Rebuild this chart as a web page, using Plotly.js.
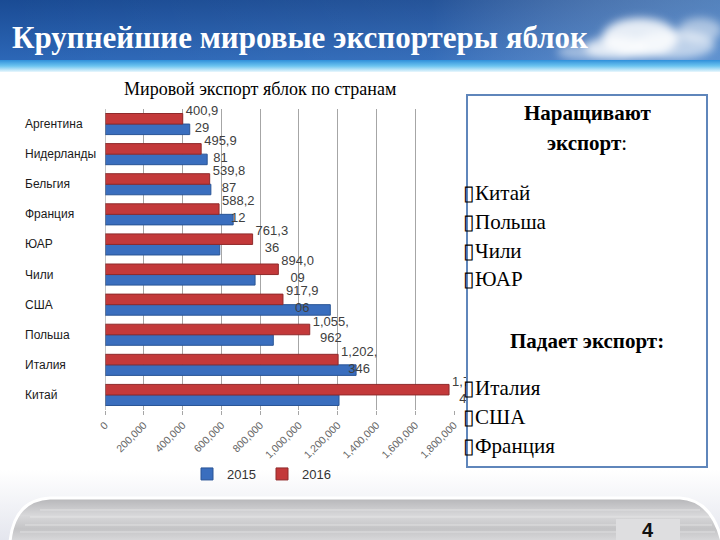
<!DOCTYPE html>
<html>
<head>
<meta charset="utf-8">
<script src="https://cdn.plot.ly/plotly-3.0.1.min.js"></script>
<style>html,body{margin:0;padding:0;background:#fff;}#chart{width:720px;height:540px;}</style>
</head>
<body>
<div id="chart"></div>
<script>
// ---- data (bottom to top on the chart) ----
const countries = ["Китай","Италия","Польша","США","Чили","ЮАР","Франция","Бельгия","Нидерланды","Аргентина"];
const exports2015 = [1207000,1295000,868000,1162000,774000,592000,661000,546000,527000,437000];
const exports2016 = [1774412,1202346,1055962,917906,894009,761336,588212,539887,495981,400929];
const seriesNames = ["2015","2016"];
const xTickVals = [0,200000,400000,600000,800000,1000000,1200000,1400000,1600000,1800000];
const slideTitle = "Крупнейшие мировые экспортеры яблок";
const chartTitle = "Мировой экспорт яблок по странам";
const growHeader = ["Наращивают","экспорт:"];
const growList = ["Китай","Польша","Чили","ЮАР"];
const fallHeader = "Падает экспорт:";
const fallList = ["Италия","США","Франция"];
const pageNumber = "4";

// wrapped data labels like in the source (e.g. "400,9" / "29")
function wrapLabel(v){
  const s = v.toLocaleString("en-US");
  const cut = s.length > 7 ? 6 : 5;
  return s.slice(0,cut) + "<br>" + s.slice(cut);
}
const labels2016 = exports2016.map(wrapLabel);

// ---- pixel -> paper helpers (plot area 105..454 x, 109..410 y) ----
const L=105, R=454, T=109, B=410;
const X = px => (px-L)/(R-L);
const Y = py => (B-py)/(B-T);

const headerSvg = `<svg xmlns='http://www.w3.org/2000/svg' width='720' height='72' viewBox='0 0 720 72'>
<defs>
<linearGradient id='g1' x1='0' y1='0' x2='0' y2='1'><stop offset='0' stop-color='#1a4b94'/><stop offset='1' stop-color='#2d68b8'/></linearGradient>
<linearGradient id='g2' x1='0' y1='0' x2='1' y2='0'><stop offset='0' stop-color='#ffffff' stop-opacity='0'/><stop offset='0.6' stop-color='#ffffff' stop-opacity='0.05'/><stop offset='1' stop-color='#9cc6ee' stop-opacity='0.45'/></linearGradient>
<linearGradient id='g3' x1='0' y1='0' x2='0' y2='1'><stop offset='0' stop-color='#2f8fda'/><stop offset='0.5' stop-color='#6cc4f0'/><stop offset='1' stop-color='#eaf7fd'/></linearGradient>
<filter id='b' x='-50%' y='-50%' width='200%' height='200%'><feGaussianBlur stdDeviation='4'/></filter>
</defs>
<rect width='720' height='62' fill='url(#g1)'/>
<rect width='720' height='62' fill='url(#g2)'/>
<g filter='url(#b)' fill='#ffffff'>
<ellipse cx='640' cy='38' rx='38' ry='20' opacity='0.85'/>
<ellipse cx='615' cy='48' rx='30' ry='12' opacity='0.7'/>
<ellipse cx='675' cy='45' rx='40' ry='14' opacity='0.6'/>
<ellipse cx='700' cy='30' rx='22' ry='12' opacity='0.5'/>
<ellipse cx='585' cy='52' rx='28' ry='8' opacity='0.45'/>
</g>
<rect y='60' width='720' height='12' fill='url(#g3)'/>
</svg>`;

const footerSvg = `<svg xmlns='http://www.w3.org/2000/svg' width='720' height='70' viewBox='0 0 720 70'>
<defs>
<linearGradient id='f0' x1='0' y1='0' x2='0' y2='1'><stop offset='0' stop-color='#ffffff'/><stop offset='1' stop-color='#e4e6ee'/></linearGradient>
<linearGradient id='f1' x1='0' y1='0' x2='0' y2='1'><stop offset='0' stop-color='#b5b5b8'/><stop offset='0.4' stop-color='#d8d8da'/><stop offset='0.7' stop-color='#c4c4c6'/><stop offset='1' stop-color='#dadadc'/></linearGradient>
</defs>
<rect width='720' height='70' fill='url(#f0)'/>
<path d='M10 72 Q14 30 50 28 L680 28 Q712 30 722 72 Z' fill='url(#f1)' stroke='#ffffff' stroke-width='3'/>
<g stroke='#eeeeee' stroke-width='1' opacity='0.6'>
<line x1='40' y1='40' x2='700' y2='40'/><line x1='30' y1='47' x2='710' y2='47'/><line x1='25' y1='55' x2='712' y2='55'/><line x1='20' y1='62' x2='715' y2='62'/>
</g>
<rect x='616' y='49' width='64' height='21' fill='#dedee0'/>
</svg>`;

const traces = [
  {type:"bar", orientation:"h", name:seriesNames[0], y:countries, x:exports2015,
   marker:{color:"#3a6ebe", line:{color:"#2a5596", width:1}}, hoverinfo:"x+y"},
  {type:"bar", orientation:"h", name:seriesNames[1], y:countries, x:exports2016,
   text:labels2016, textposition:"outside", cliponaxis:false, constraintext:"none",
   textfont:{family:"Liberation Sans, Arial, sans-serif", size:13, color:"#404040"},
   marker:{color:"#c3393a", line:{color:"#8f2a2b", width:1}}, hoverinfo:"x+y"}
];

const annotations = [];
// slide title
annotations.push({xref:"paper", yref:"paper", x:X(10), y:Y(37), xanchor:"left", yanchor:"middle",
  text:slideTitle, showarrow:false,
  font:{family:"Liberation Serif, Times New Roman, serif", size:31, color:"#ffffff", weight:"bold"}});
// chart title
annotations.push({xref:"paper", yref:"paper", x:X(260), y:Y(89), xanchor:"center", yanchor:"middle",
  text:chartTitle, showarrow:false,
  font:{family:"Liberation Serif, Times New Roman, serif", size:18, color:"#000000"}});
// category labels (left aligned as in the source)
countries.forEach((c,i)=>annotations.push({xref:"paper", yref:"y", x:X(23), y:i, xanchor:"left", yanchor:"middle",
  text:c, showarrow:false, font:{family:"Liberation Sans, Arial, sans-serif", size:12, color:"#1a1a1a"}}));
// text box contents
const serif = "Liberation Serif, Times New Roman, serif";
annotations.push({xref:"paper", yref:"paper", x:X(587), y:Y(113), xanchor:"center", yanchor:"middle",
  text:growHeader[0], showarrow:false, font:{family:serif, size:21, color:"#000", weight:"bold"}});
annotations.push({xref:"paper", yref:"paper", x:X(587), y:Y(143), xanchor:"center", yanchor:"middle",
  text:"<b>экспорт</b>:", showarrow:false, font:{family:serif, size:21, color:"#000"}});
const bulletRows = [193,222,251,279];
growList.forEach((t,i)=>annotations.push({xref:"paper", yref:"paper", x:X(461), y:Y(bulletRows[i]), xanchor:"left", yanchor:"middle",
  text:"▯"+t, showarrow:false, font:{family:serif, size:21, color:"#000"}}));
annotations.push({xref:"paper", yref:"paper", x:X(587), y:Y(341), xanchor:"center", yanchor:"middle",
  text:fallHeader, showarrow:false, font:{family:serif, size:21, color:"#000", weight:"bold"}});
const fallRows = [388,417,446];
fallList.forEach((t,i)=>annotations.push({xref:"paper", yref:"paper", x:X(461), y:Y(fallRows[i]), xanchor:"left", yanchor:"middle",
  text:"▯"+t, showarrow:false, font:{family:serif, size:21, color:"#000"}}));
// page number
annotations.push({xref:"paper", yref:"paper", x:X(648), y:Y(530), xanchor:"center", yanchor:"middle",
  text:pageNumber, showarrow:false, font:{family:"Liberation Sans, Arial, sans-serif", size:20, color:"#111", weight:"bold"}});

const layout = {
  width:720, height:540,
  margin:{l:L, r:720-R, t:T, b:540-B, pad:0},
  paper_bgcolor:"#ffffff", plot_bgcolor:"rgba(0,0,0,0)",
  barmode:"group", bargap:0.3, bargroupgap:0,
  showlegend:true,
  legend:{orientation:"h", x:X(262), xanchor:"center", y:Y(474), yanchor:"middle",
    font:{family:"Liberation Sans, Arial, sans-serif", size:13, color:"#333"}, itemwidth:30,
    entrywidth:30, entrywidthmode:"pixels", bgcolor:"rgba(0,0,0,0)"},
  xaxis:{range:[0,1800000], tickvals:xTickVals, tickformat:",d", tickangle:-45,
    showgrid:true, gridcolor:"#a6a6a6", gridwidth:1, zeroline:false, showline:false,
    ticks:"outside", ticklen:4, tickcolor:"#a6a6a6",
    tickfont:{family:"Liberation Sans, Arial, sans-serif", size:10.5, color:"#666"}, fixedrange:true},
  yaxis:{type:"category", showticklabels:false, showgrid:false, zeroline:false,
    showline:false, ticks:"", fixedrange:true},
  images:[
    {source:"data:image/svg+xml;charset=utf-8,"+encodeURIComponent(headerSvg), xref:"paper", yref:"paper",
     x:X(0), y:Y(0), sizex:720/(R-L), sizey:72/(B-T), xanchor:"left", yanchor:"top", sizing:"stretch", layer:"below"},
    {source:"data:image/svg+xml;charset=utf-8,"+encodeURIComponent(footerSvg), xref:"paper", yref:"paper",
     x:X(0), y:Y(470), sizex:720/(R-L), sizey:70/(B-T), xanchor:"left", yanchor:"top", sizing:"stretch", layer:"below"}
  ],
  shapes:[
    {type:"line", xref:"x", yref:"paper", x0:0, x1:0, y0:0, y1:1, line:{color:"#8c8c8c", width:1}, layer:"above"},
    {type:"rect", xref:"paper", yref:"paper", x0:X(467), x1:X(707), y0:Y(95), y1:Y(467),
     fillcolor:"#ffffff", line:{color:"#5f86bb", width:2}, layer:"above"}
  ],
  annotations:annotations
};

Plotly.newPlot("chart", traces, layout, {displayModeBar:false, staticPlot:true});
</script>
</body>
</html>
